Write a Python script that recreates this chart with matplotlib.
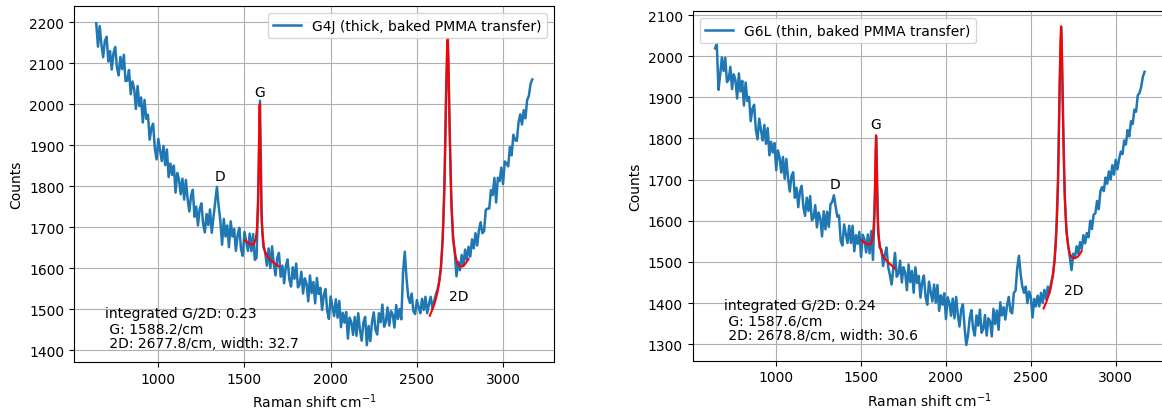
import numpy as np
from matplotlib import pyplot as plt
from matplotlib.ticker import MultipleLocator

#raman shift grid of the spectrometer (cm^-1)
shift = np.arange(640, 3180, 10)

#G4J spectrum (thick, baked PMMA transfer)
counts_g4j = [
    2197, 2140, 2190, 2145, 2114, 2154, 2164, 2104, 2129, 2084,
    2124, 2139, 2089, 2070, 2115, 2085, 2120, 2056, 2057, 2083,
    2024, 2055, 2037, 1988, 2044, 1995, 2016, 1955, 2010, 1964,
    1974, 1913, 1942, 1952, 1891, 1865, 1915, 1888, 1861, 1898,
    1851, 1889, 1822, 1855, 1827, 1850, 1784, 1832, 1816, 1780,
    1818, 1767, 1815, 1769, 1738, 1776, 1791, 1725, 1750, 1704,
    1744, 1758, 1708, 1687, 1732, 1705, 1743, 1686, 1724, 1760,
    1798, 1752, 1715, 1657, 1720, 1677, 1704, 1651, 1714, 1677,
    1695, 1642, 1680, 1698, 1646, 1630, 1688, 1665, 1642, 1684,
    1641, 1683, 1620, 1625, 1780, 2008, 1715, 1651, 1638, 1606,
    1648, 1600, 1653, 1610, 1582, 1625, 1637, 1579, 1606, 1563,
    1605, 1621, 1573, 1555, 1602, 1574, 1611, 1553, 1560, 1591,
    1538, 1575, 1562, 1519, 1582, 1539, 1566, 1514, 1576, 1537,
    1552, 1498, 1534, 1549, 1495, 1476, 1531, 1507, 1483, 1524,
    1479, 1520, 1456, 1491, 1467, 1493, 1428, 1479, 1468, 1437,
    1481, 1435, 1490, 1449, 1423, 1467, 1481, 1412, 1459, 1422,
    1469, 1492, 1450, 1438, 1490, 1468, 1511, 1457, 1468, 1504,
    1460, 1495, 1487, 1455, 1510, 1476, 1500, 1475, 1590, 1640,
    1575, 1530, 1515, 1538, 1495, 1488, 1522, 1505, 1490, 1525,
    1498, 1530, 1490, 1512, 1530, 1502, 1520, 1535, 1548, 1568,
    1600, 1670, 1800, 2030, 2160, 1950, 1765, 1670, 1640, 1580,
    1615, 1595, 1632, 1605, 1645, 1620, 1652, 1628, 1670, 1648,
    1685, 1655, 1692, 1712, 1685, 1690, 1742, 1745, 1745, 1790,
    1778, 1820, 1760, 1820, 1812, 1845, 1805, 1860, 1855, 1848,
    1895, 1875, 1925, 1912, 1910, 1955, 1975, 1950, 1985, 1965,
    2010, 2020, 2050, 2060,
]

#G6L spectrum (thin, baked PMMA transfer)
counts_g6l = [
    2019, 2031, 1918, 1955, 1997, 1964, 1996, 1937, 1943, 1974,
    1920, 1956, 1942, 1897, 1958, 1914, 1940, 1880, 1936, 1891,
    1901, 1842, 1872, 1882, 1822, 1798, 1848, 1821, 1795, 1833,
    1787, 1825, 1759, 1792, 1766, 1789, 1723, 1771, 1754, 1717,
    1755, 1702, 1750, 1703, 1671, 1709, 1718, 1656, 1680, 1633,
    1672, 1685, 1634, 1612, 1656, 1624, 1660, 1601, 1607, 1638,
    1584, 1620, 1606, 1562, 1623, 1579, 1622, 1585, 1640, 1646,
    1662, 1635, 1610, 1613, 1551, 1540, 1591, 1568, 1546, 1588,
    1546, 1588, 1526, 1565, 1544, 1573, 1512, 1566, 1555, 1523,
    1567, 1521, 1575, 1505, 1625, 1805, 1575, 1535, 1530, 1490,
    1518, 1535, 1487, 1468, 1445, 1485, 1522, 1464, 1471, 1503,
    1450, 1487, 1474, 1431, 1494, 1451, 1478, 1425, 1487, 1449,
    1466, 1413, 1450, 1467, 1415, 1396, 1452, 1428, 1404, 1445,
    1401, 1444, 1381, 1419, 1396, 1424, 1361, 1414, 1401, 1369,
    1411, 1363, 1415, 1371, 1343, 1385, 1397, 1339, 1298, 1322,
    1364, 1383, 1337, 1321, 1370, 1345, 1384, 1328, 1337, 1371,
    1321, 1363, 1356, 1319, 1386, 1349, 1382, 1335, 1402, 1370,
    1390, 1360, 1395, 1415, 1380, 1375, 1425, 1430, 1485, 1515,
    1470, 1440, 1425, 1440, 1400, 1428, 1415, 1365, 1410, 1392,
    1418, 1392, 1425, 1400, 1432, 1410, 1440, 1425, 1450, 1468,
    1505, 1575, 1695, 1935, 2070, 1850, 1660, 1575, 1540, 1510,
    1480, 1520, 1510, 1538, 1520, 1548, 1532, 1565, 1545, 1570,
    1560, 1600, 1580, 1615, 1618, 1648, 1628, 1672, 1682, 1672,
    1705, 1690, 1720, 1700, 1735, 1712, 1748, 1725, 1750, 1768,
    1762, 1795, 1785, 1820, 1805, 1842, 1835, 1870, 1865, 1905,
    1910, 1925, 1950, 1962,
]

#lorentzian fits, G region
fit_g_shift = [1500, 1520, 1540, 1555, 1565, 1572, 1578, 1582, 1585, 1588,
               1591, 1594, 1598, 1604, 1612, 1622, 1635, 1650, 1670, 1700]
fit_g_g4j = [1668, 1662, 1657, 1659, 1670, 1695, 1753, 1841, 1936, 1999,
             1934, 1837, 1746, 1685, 1653, 1637, 1627, 1620, 1613, 1604]
fit_g_g6l = [1553, 1547, 1543, 1543, 1552, 1571, 1618, 1688, 1764, 1808,
             1762, 1684, 1612, 1561, 1535, 1521, 1511, 1503, 1495, 1484]

#lorentzian fits, 2D region
fit_2d_shift = [2575, 2590, 2600, 2610, 2620, 2630, 2640, 2648, 2655, 2660,
                2665, 2670, 2674, 2678, 2682, 2686, 2691, 2696, 2702, 2710,
                2720, 2730, 2740, 2750, 2760, 2770, 2780, 2790, 2800]
fit_2d_g4j = [1484, 1499, 1510, 1524, 1542, 1567, 1606, 1657, 1728, 1803,
              1907, 2031, 2118, 2158, 2123, 2040, 1922, 1824, 1744, 1680,
              1639, 1619, 1609, 1605, 1604, 1605, 1610, 1616, 1622]
fit_2d_g6l = [1387, 1401, 1413, 1426, 1443, 1467, 1503, 1550, 1618, 1693,
              1798, 1932, 2030, 2073, 2035, 1941, 1814, 1715, 1636, 1575,
              1538, 1520, 1512, 1509, 1509, 1511, 1514, 1520, 1527]

samples = ['G4J (thick, baked PMMA transfer)', 'G6L (thin, baked PMMA transfer)']
ratios = [0.23, 0.24]
g_pos = [1588.2, 1587.6]
d2_pos = [2677.8, 2678.8]
d2_width = [32.7, 30.6]

fig = plt.figure(figsize=(11.62, 4.10), dpi=100)
ax1 = fig.add_axes([0.0637, 0.1146, 0.4131, 0.8683])
ax2 = fig.add_axes([0.5961, 0.1178, 0.4073, 0.8522])

#one panel per sample
def plot_panel(ax, counts, fit_g, fit_2d, i, lab_pos, info_y, loc, xlim, ylim):
    ax.plot(shift, counts, color='#1f77b4', lw=1.8, label=samples[i])
    ax.plot(fit_g_shift, fit_g, 'r')
    ax.plot(fit_2d_shift, fit_2d, 'r')
    for name, (px, py) in zip(['D', 'G', '2D'], lab_pos):
        ax.text(px, py, name, ha='center', va='center', fontsize=10)
    info = 'integrated G/2D: %.2f\n G: %.1f/cm\n 2D: %.1f/cm, width: %.1f' % (
        ratios[i], g_pos[i], d2_pos[i], d2_width[i])
    ax.text(690, info_y, info, ha='left', va='bottom', fontsize=10, linespacing=1.1)
    ax.set_xlim(*xlim)
    ax.set_ylim(*ylim)
    ax.xaxis.set_major_locator(MultipleLocator(500))
    ax.yaxis.set_major_locator(MultipleLocator(100))
    ax.set_xlabel('Raman shift cm$^{-1}$')
    ax.set_ylabel('Counts')
    ax.grid(True)
    ax.legend(loc=loc)

plot_panel(ax1, counts_g4j, fit_g_g4j, fit_2d_g4j, 0,
           [(1358, 1824), (1586, 2030), (2745, 1532)], 1400, 'upper right',
           (511, 3296), (1371, 2239))
plot_panel(ax2, counts_g6l, fit_g_g6l, fit_2d_g6l, 1,
           [(1347, 1690), (1588, 1834), (2751, 1432)], 1305, 'upper left',
           (508, 3296), (1260, 2109))

fig.savefig('out.png', dpi=100)
